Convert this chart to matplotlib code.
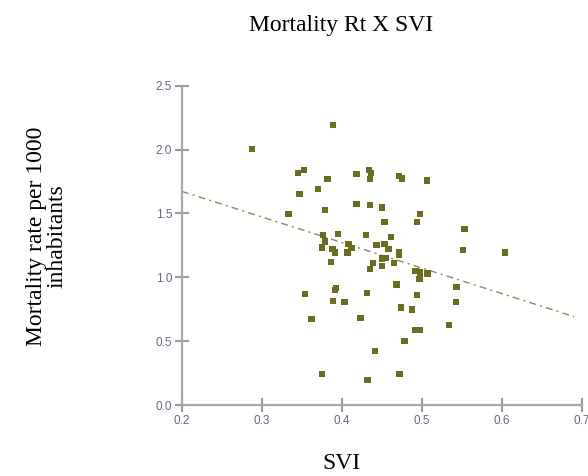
import matplotlib
matplotlib.use("Agg")
import matplotlib.pyplot as plt
import numpy as np

# ---- data ----
svi = [0.2875, 0.389, 0.345, 0.3525, 0.382, 0.347, 0.370, 0.379, 0.333, 0.418,
       0.434, 0.436, 0.435, 0.418, 0.435, 0.450, 0.471, 0.475, 0.506, 0.4975,
       0.453, 0.376, 0.395, 0.379, 0.375, 0.388, 0.391, 0.408, 0.412, 0.407,
       0.430, 0.461, 0.443, 0.453, 0.458, 0.471, 0.471, 0.386, 0.439, 0.435,
       0.450, 0.455, 0.450, 0.465, 0.468, 0.354, 0.3925, 0.391, 0.431, 0.553,
       0.551, 0.604, 0.492, 0.4975, 0.507, 0.497, 0.543, 0.494, 0.474, 0.4875,
       0.5425, 0.491, 0.497, 0.534, 0.478, 0.441, 0.472, 0.389, 0.403, 0.362,
       0.423, 0.375, 0.432, 0.494]
mortality = [2.004, 2.192, 1.816, 1.839, 1.769, 1.651, 1.693, 1.526, 1.495, 1.810,
             1.842, 1.816, 1.771, 1.575, 1.565, 1.546, 1.792, 1.774, 1.758, 1.495,
             1.432, 1.332, 1.340, 1.280, 1.233, 1.223, 1.194, 1.259, 1.228, 1.194,
             1.332, 1.314, 1.254, 1.259, 1.220, 1.201, 1.176, 1.118, 1.113, 1.066,
             1.147, 1.154, 1.089, 1.110, 0.944, 0.870, 0.919, 0.901, 0.878, 1.377,
             1.215, 1.194, 1.052, 1.037, 1.029, 0.987, 0.925, 0.862, 0.763, 0.747,
             0.805, 0.588, 0.588, 0.629, 0.502, 0.423, 0.243, 0.813, 0.805, 0.672,
             0.682, 0.243, 0.196, 1.432]
fit_intercept = 2.072
fit_slope = -2.0
fit_x_range = [0.2, 0.69]
x_ticks = [0.2, 0.3, 0.4, 0.5, 0.6, 0.7]
y_ticks = [0.0, 0.5, 1.0, 1.5, 2.0, 2.5]

W, H = 588, 476
fig = plt.figure(figsize=(W / 100, H / 100), dpi=100)
ax = fig.add_axes([182 / W, 1 - 405 / H, 400 / W, (405 - 85.7) / H])

ax.scatter(svi, mortality, marker='s', s=20, color='#6b6b22', edgecolors='none',
           zorder=3, clip_on=False)
fx = np.array(fit_x_range)
ax.plot(fx, fit_intercept + fit_slope * fx, color='#8c8c52', lw=1.0,
        linestyle=(0, (5, 3, 1.5, 3)), zorder=2)

ax.set_xlim(0.2, 0.7)
ax.set_ylim(0, 2.5)
ax.set_xticks(x_ticks)
ax.set_xticklabels([f"{v:.1f}" for v in x_ticks])
ax.set_yticks(y_ticks)
ax.set_yticklabels([f"{v:.1f}" for v in y_ticks])

for s in ['top', 'right']:
    ax.spines[s].set_visible(False)
for s in ['left', 'bottom']:
    ax.spines[s].set_color('#a8a8a8')
    ax.spines[s].set_linewidth(1.6)
ax.tick_params(direction='inout', length=10, width=1.5, color='#9a9a9a',
               labelsize=8.5, labelcolor='#5f6b80', pad=2,
               labelfontfamily='Liberation Sans')

fig.text(341.5 / W, 1 - 31.5 / H, 'Mortality Rt X SVI', ha='center', va='baseline',
         family='Liberation Serif', fontsize=17)
fig.text(341 / W, 1 - 469 / H, 'SVI', ha='center', va='baseline',
         family='Liberation Serif', fontsize=17)
fig.text(47 / W, 1 - 236 / H, 'Mortality rate per 1000\ninhabitants', ha='center',
         va='center', rotation=90, family='Liberation Serif', fontsize=17,
         linespacing=1.0)

fig.savefig('out.png', dpi=100)
